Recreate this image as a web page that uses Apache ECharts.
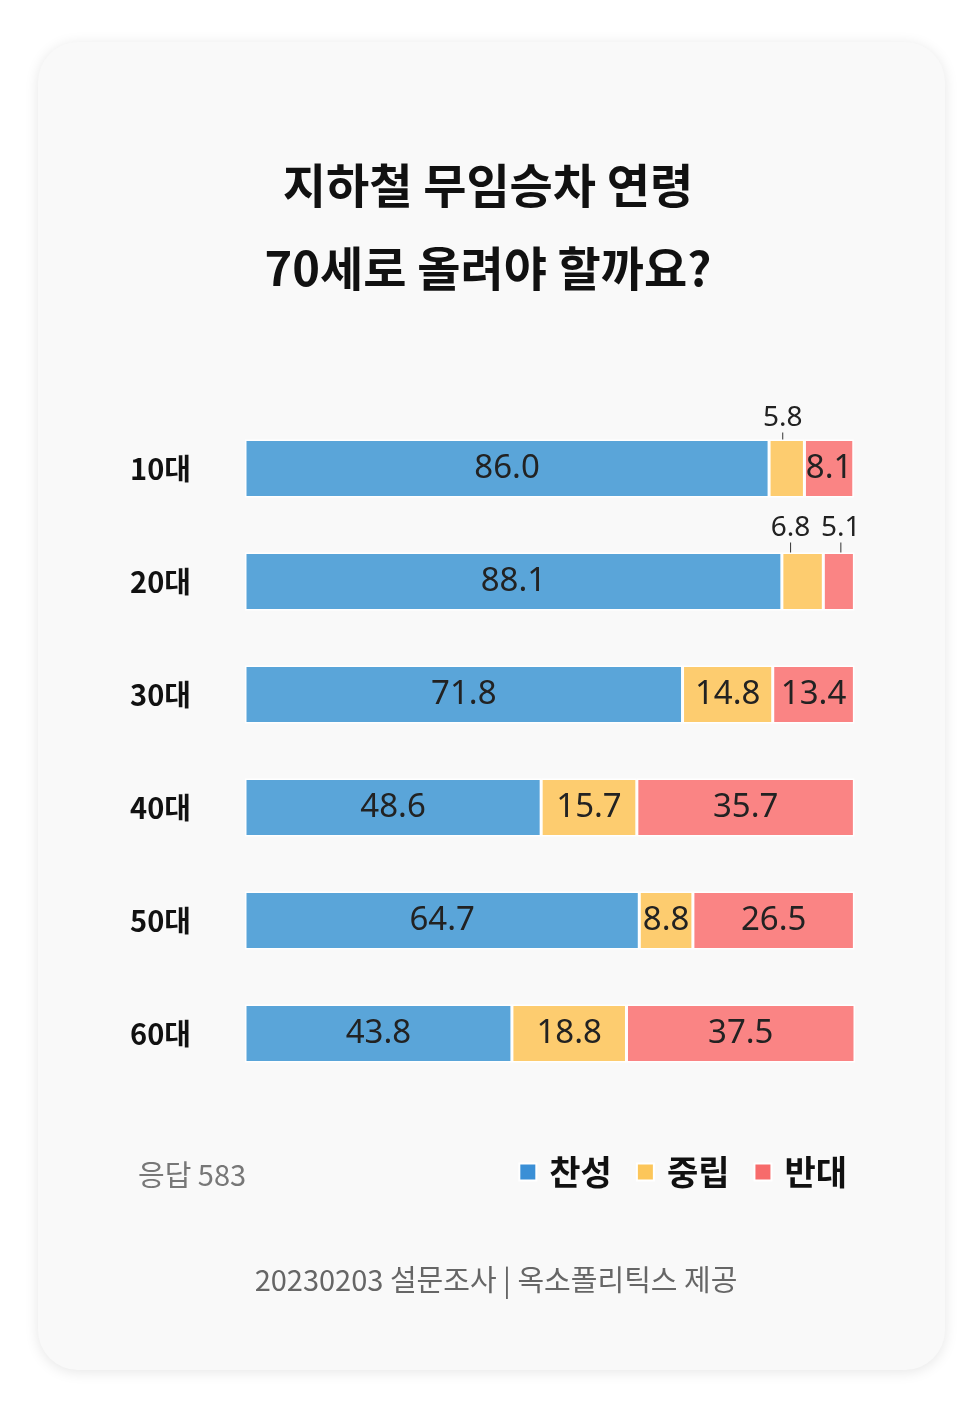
<!DOCTYPE html>
<html>
<head>
<meta charset="utf-8">
<script src="https://cdn.jsdelivr.net/npm/echarts@6/dist/echarts.min.js"></script>
<style>
  html, body { margin: 0; padding: 0; background: #ffffff; }
  #chart { width: 978px; height: 1412px; }
</style>
</head>
<body>
<div id="chart"></div>
<script>
// 연령대별 응답 (%)
var ages = ['10대', '20대', '30대', '40대', '50대', '60대'];
var agree = [86.0, 88.1, 71.8, 48.6, 64.7, 43.8];
var neutral = [5.8, 6.8, 14.8, 15.7, 8.8, 18.8];
var oppose = [8.1, 5.1, 13.4, 35.7, 26.5, 37.5];

var seriesNames = ['찬성', '중립', '반대'];
var barColors = ['#5aa5d9', '#fdcc6f', '#fa8484'];
var legendColors = ['#3a8fd6', '#fcc65a', '#f76b6b'];

var FONT = '"Noto Sans CJK KR", "Noto Sans", sans-serif';
var NUM_FONT = '"Noto Sans", sans-serif';

// small segments get their label pulled up with a leader line
var outside = {
  '중립-0': { dx: -4, dy: -50 },
  '중립-1': { dx: -12, dy: -53 },
  '반대-1': { dx: 2, dy: -53 }
};

function makeSeries(name, values, idx) {
  return {
    name: name,
    type: 'bar',
    stack: 'total',
    barWidth: 58,
    itemStyle: { color: barColors[idx], borderColor: '#ffffff', borderWidth: 1.5 },
    label: {
      show: true,
      position: 'inside',
      color: '#222',
      fontFamily: NUM_FONT,
      fontSize: 33,
      formatter: function (p) { return p.value.toFixed(1); }
    },
    labelLayout: function (p) {
      var o = outside[name + '-' + p.dataIndex];
      return o ? { dx: o.dx, dy: o.dy } : {};
    },
    data: values.map(function (v, i) {
      var item = { value: v };
      if (outside[name + '-' + i]) {
        item.label = { fontSize: 28 };
        item.labelLine = { show: true, lineStyle: { color: '#333', width: 1 } };
      }
      return item;
    })
  };
}

var chart = echarts.init(document.getElementById('chart'));

var option = {
  backgroundColor: '#ffffff',
  animation: false,
  graphic: [
    {
      type: 'rect',
      z: -10,
      shape: { x: 38, y: 42, width: 907, height: 1328, r: 40 },
      style: {
        fill: '#f9f9f9',
        shadowBlur: 14,
        shadowColor: 'rgba(0,0,0,0.10)',
        shadowOffsetY: 2
      }
    },
    {
      type: 'text',
      x: 488,
      y: 185,
      style: {
        text: '지하철 무임승차 연령',
        fill: '#111',
        font: 'bold 47px ' + FONT,
        align: 'center',
        verticalAlign: 'middle'
      }
    },
    {
      type: 'text',
      x: 488,
      y: 268,
      style: {
        text: '70세로 올려야 할까요?',
        fill: '#111',
        font: 'bold 47px ' + FONT,
        align: 'center',
        verticalAlign: 'middle'
      }
    },
    {
      type: 'text',
      left: 138,
      top: 1160,
      style: { text: '응답 583', fill: '#777', font: '29px ' + FONT }
    },
    {
      type: 'text',
      x: 496,
      y: 1280,
      style: {
        text: '20230203 설문조사 | 옥소폴리틱스 제공',
        fill: '#666',
        font: '29px ' + FONT,
        align: 'center',
        verticalAlign: 'middle'
      }
    }
  ],
  legend: {
    right: 126,
    top: 1150,
    itemWidth: 17,
    itemHeight: 17,
    itemGap: 24,
    icon: 'rect',
    textStyle: { color: '#111', fontSize: 34, fontWeight: 'bold', fontFamily: FONT, padding: [0, 0, 0, 8] },
    data: seriesNames.map(function (n, i) {
      return { name: n, itemStyle: { color: legendColors[i] } };
    })
  },
  grid: { left: 245, right: 123, top: 412, height: 678, containLabel: false },
  xAxis: {
    type: 'value',
    min: 0,
    max: function (v) { return v.max; },
    show: false
  },
  yAxis: {
    type: 'category',
    inverse: true,
    data: ages,
    axisLine: { show: false },
    axisTick: { show: false },
    axisLabel: {
      color: '#111',
      fontSize: 29,
      fontWeight: 'bold',
      fontFamily: FONT,
      margin: 54
    }
  },
  series: [
    makeSeries('찬성', agree, 0),
    makeSeries('중립', neutral, 1),
    makeSeries('반대', oppose, 2)
  ]
};

chart.setOption(option);
</script>
</body>
</html>
